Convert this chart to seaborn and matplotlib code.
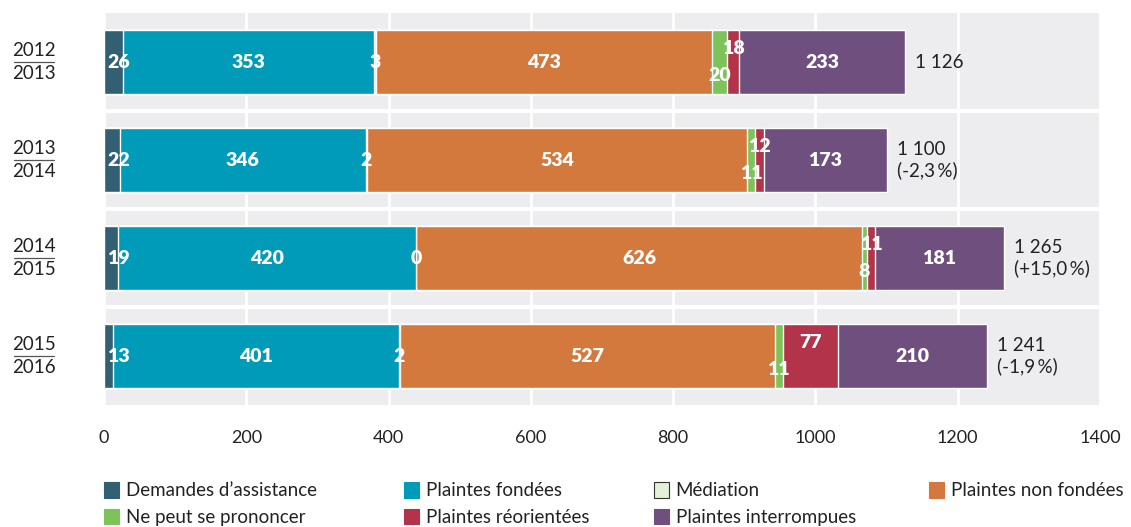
import numpy as np
import pandas as pd
import matplotlib
matplotlib.use('Agg')
import matplotlib.pyplot as plt
import seaborn as sns
from matplotlib.patches import Patch
from matplotlib.transforms import blended_transform_factory

# Data
periods = ['2012-2013', '2013-2014', '2014-2015', '2015-2016']
period_top = ['2012', '2013', '2014', '2015']
period_bottom = ['2013', '2014', '2015', '2016']

categories = ['Demandes d\u2019assistance', 'Plaintes fondées', 'Médiation',
              'Plaintes non fondées', 'Ne peut se prononcer',
              'Plaintes réorientées', 'Plaintes interrompues']
demandes = [26, 22, 19, 13]
fondees = [353, 346, 420, 401]
mediation = [3, 2, 0, 2]
non_fondees = [473, 534, 626, 527]
ne_peut = [20, 11, 8, 11]
reorientees = [18, 12, 11, 77]
interrompues = [233, 173, 181, 210]

totals = ['1 126', '1 100\n(-2,3\u2009%)', '1 265\n(+15,0\u2009%)', '1 241\n(-1,9\u2009%)']

colors = ['#335f73', '#009bb8', '#e4f0d8', '#d4793d', '#7cc35a', '#b3334a', '#6e4f7e']

series = [demandes, fondees, mediation, non_fondees, ne_peut, reorientees, interrompues]
df = pd.DataFrame(dict(zip(categories, series)), index=periods)
cum = df.cumsum(axis=1)

sns.set_style('white')
plt.rcParams['font.family'] = ['Lato', 'DejaVu Sans']

fig = plt.figure(figsize=(11.31, 5.27), dpi=100)
ax = fig.add_axes([0.092, 0.2315, 0.8806, 0.7438])
ax.set_facecolor('#ededef')

# stacked bars: draw cumulative totals from the outermost layer inward
for cat, col in reversed(list(zip(categories, colors))):
    sns.barplot(x=cum[cat].values, y=periods, orient='h', color=col,
                width=0.65, ax=ax, zorder=3, saturation=1)

ax.set_xlim(0, 1400)
ax.set_ylim(3.5, -0.5)
ax.set_xticks(range(0, 1401, 200))
ax.xaxis.grid(True, color='white', linewidth=2, zorder=1)
for y in [0.5, 1.5, 2.5]:
    ax.axhline(y, color='white', linewidth=3, zorder=1)
for s in ax.spines.values():
    s.set_visible(False)
ax.tick_params(axis='x', labelsize=13, colors='#222222', length=0, pad=18)
ax.set_yticks(range(4))
ax.set_yticklabels([])
ax.tick_params(axis='y', length=0)
ax.set_xlabel('')
ax.set_ylabel('')

# fraction-style period labels
tr = blended_transform_factory(fig.transFigure, ax.transData)
for i in range(4):
    fig.text(34 / 1131, 0, period_top[i], transform=tr, ha='center', va='bottom',
             fontsize=13.5, color='#222222').set_y(i - 0.03)
    fig.text(34 / 1131, 0, period_bottom[i], transform=tr, ha='center', va='top',
             fontsize=13.5, color='#222222').set_y(i + 0.03)
    ax.plot([14 / 1131, 54 / 1131], [i, i], transform=tr, color='#555555',
            linewidth=0.9, clip_on=False)

# value labels
lab = dict(color='white', fontsize=14, fontweight='heavy', va='center', zorder=5)
for i in range(4):
    start = 0
    for j, cat in enumerate(categories):
        v = df[cat].iloc[i]
        mid = start + v / 2
        if j == 0:
            ax.text(4, i, str(v), ha='left', **lab)
        elif j == 4:
            ax.text(mid, i + 0.14, str(v), ha='center', **lab)
        elif j == 5:
            ax.text(mid, i - 0.14, str(v), ha='center', **lab)
        else:
            ax.text(mid, i, str(v), ha='center', **lab)
        start += v
    ax.text(cum.iloc[i, -1] + 14, i, totals[i], ha='left', va='center',
            fontsize=13.5, color='#222222', linespacing=1.25, zorder=5)

# legend in four columns
handles = [Patch(facecolor=c, edgecolor='#333333' if c == '#e4f0d8' else c,
                 linewidth=0.8, label=l) for l, c in zip(categories, colors)]
cols = [[0, 4], [1, 5], [2, 6], [3]]
xs = [104, 404, 654, 929]
for idx, x in zip(cols, xs):
    fig.legend(handles=[handles[k] for k in idx], loc='upper left',
               bbox_to_anchor=(x / 1131, 1 - 482 / 527), frameon=False,
               fontsize=13.5, handlelength=0.8, handleheight=0.9,
               handletextpad=0.35, labelspacing=0.5, borderaxespad=0,
               borderpad=0, labelcolor='#222222')

fig.savefig('out.png', dpi=100)
